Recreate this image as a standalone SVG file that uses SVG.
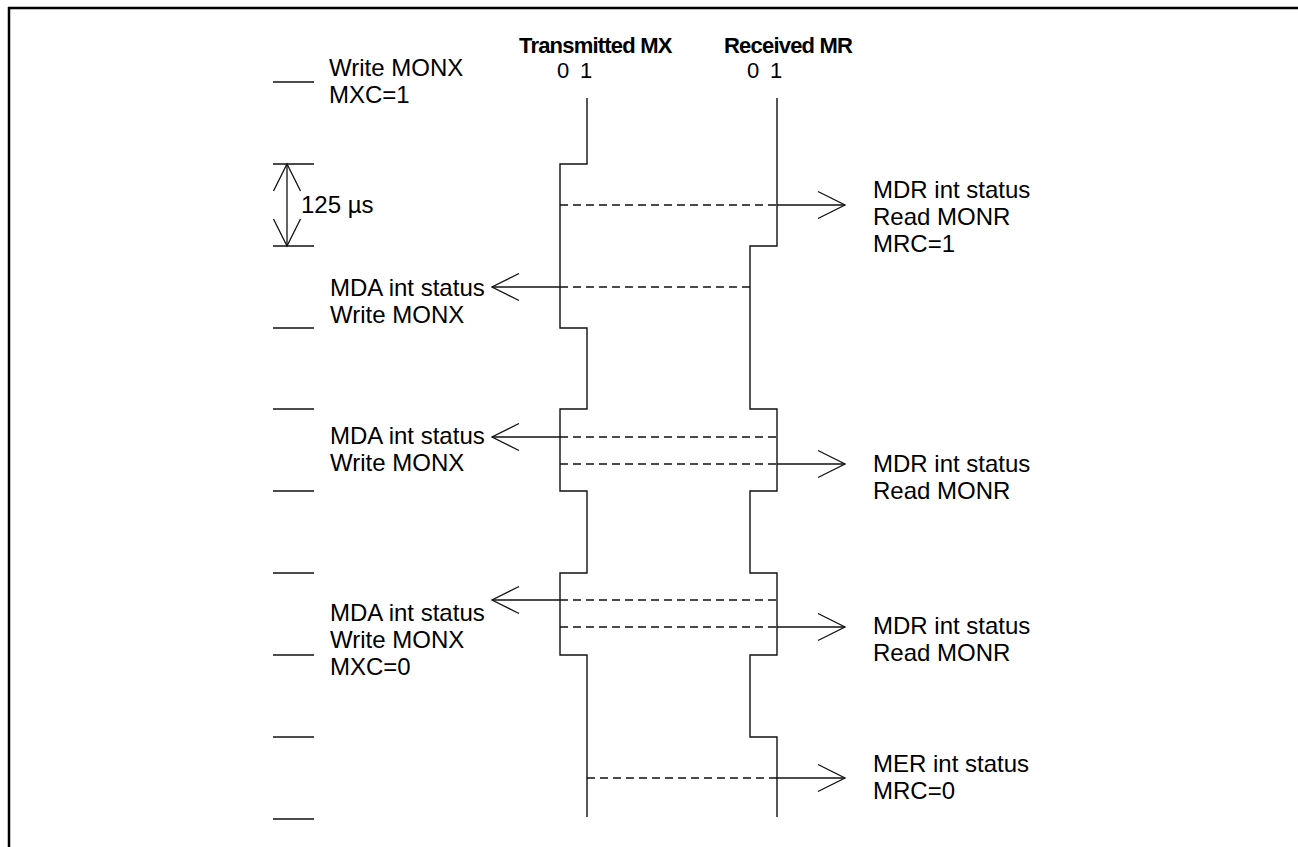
<svg xmlns="http://www.w3.org/2000/svg" width="1298" height="847" viewBox="0 0 1298 847">
<defs>
<style>
.t{font-family:"Liberation Sans",Arial,Helvetica,sans-serif;font-size:24px;fill:#000}
.b{font-family:"Liberation Sans",Arial,Helvetica,sans-serif;font-size:22px;font-weight:bold;letter-spacing:-0.8px;fill:#000}
.d{font-family:"Liberation Sans",Arial,Helvetica,sans-serif;font-size:22px;fill:#000}
.w{fill:none;stroke:#111;stroke-width:1.4}
.s{fill:none;stroke:#111;stroke-width:1.3}
.dash{fill:none;stroke:#111;stroke-width:1.3;stroke-dasharray:8 5}
.tick{stroke:#111;stroke-width:1.3}
</style>
<marker id="open" viewBox="-1 -15 30 30" refX="27" refY="0" markerWidth="30" markerHeight="30" markerUnits="userSpaceOnUse" orient="auto-start-reverse">
<path d="M0,-13.5 L27,0 L0,13.5" fill="none" stroke="#111" stroke-width="1.3"/>
</marker>
</defs>
<rect width="1298" height="847" fill="#fff"/>
<g id="frame">
<line x1="8" y1="8" x2="1298" y2="8" stroke="#000" stroke-width="2.5"/>
<line x1="9" y1="7" x2="9" y2="847" stroke="#000" stroke-width="2.5"/>
</g>
<g id="ticks">
<line class="tick" x1="273" y1="82" x2="314" y2="82"/>
<line class="tick" x1="273" y1="164" x2="314" y2="164"/>
<line class="tick" x1="273" y1="246" x2="314" y2="246"/>
<line class="tick" x1="273" y1="328" x2="314" y2="328"/>
<line class="tick" x1="273" y1="409" x2="314" y2="409"/>
<line class="tick" x1="273" y1="491" x2="314" y2="491"/>
<line class="tick" x1="273" y1="573" x2="314" y2="573"/>
<line class="tick" x1="273" y1="655" x2="314" y2="655"/>
<line class="tick" x1="273" y1="737" x2="314" y2="737"/>
<line class="tick" x1="273" y1="819" x2="314" y2="819"/>
</g>
<g id="period">
<line class="s" x1="287" y1="164" x2="287" y2="246" marker-start="url(#open)" marker-end="url(#open)"/>
<text class="t" x="301" y="213">125 µs</text>
</g>
<g id="titles">
<text class="b" x="519" y="53">Transmitted MX</text>
<text class="d" x="557 580" y="78">01</text>
<text class="b" x="724" y="53">Received MR</text>
<text class="d" x="747 770" y="78">01</text>
</g>
<g id="tx-wave">
<path class="w" d="M587,98 V164 H560 V328 H587 V409 H560 V491 H587 V573 H560 V655 H587 V817"/>
</g>
<g id="rx-wave">
<path class="w" d="M777,98 V246 H750 V409 H777 V491 H750 V573 H777 V655 H750 V737 H777 V817"/>
</g>
<g id="connectors">
<line class="dash" x1="560" y1="205" x2="777" y2="205"/>
<line class="s" x1="777" y1="205" x2="845" y2="205" marker-end="url(#open)"/>
<line class="dash" x1="560" y1="287" x2="750" y2="287"/>
<line class="s" x1="560" y1="287" x2="492" y2="287" marker-end="url(#open)"/>
<line class="dash" x1="560" y1="437" x2="777" y2="437"/>
<line class="s" x1="560" y1="437" x2="492" y2="437" marker-end="url(#open)"/>
<line class="dash" x1="560" y1="464" x2="777" y2="464"/>
<line class="s" x1="777" y1="464" x2="845" y2="464" marker-end="url(#open)"/>
<line class="dash" x1="560" y1="600" x2="777" y2="600"/>
<line class="s" x1="560" y1="600" x2="492" y2="600" marker-end="url(#open)"/>
<line class="dash" x1="560" y1="627" x2="777" y2="627"/>
<line class="s" x1="777" y1="627" x2="845" y2="627" marker-end="url(#open)"/>
<line class="dash" x1="587" y1="778" x2="777" y2="778"/>
<line class="s" x1="777" y1="778" x2="845" y2="778" marker-end="url(#open)"/>
</g>
<g id="label-write1">
<text class="t" x="329" y="76">Write MONX</text>
<text class="t" x="329" y="103">MXC=1</text>
</g>
<g id="label-mda1">
<text class="t" x="330" y="296">MDA int status</text>
<text class="t" x="330" y="323">Write MONX</text>
</g>
<g id="label-mda2">
<text class="t" x="330" y="444">MDA int status</text>
<text class="t" x="330" y="471">Write MONX</text>
</g>
<g id="label-mda3">
<text class="t" x="330" y="621">MDA int status</text>
<text class="t" x="330" y="648">Write MONX</text>
<text class="t" x="330" y="675">MXC=0</text>
</g>
<g id="label-mdr1">
<text class="t" x="873" y="198">MDR int status</text>
<text class="t" x="873" y="225">Read MONR</text>
<text class="t" x="873" y="252">MRC=1</text>
</g>
<g id="label-mdr2">
<text class="t" x="873" y="472">MDR int status</text>
<text class="t" x="873" y="499">Read MONR</text>
</g>
<g id="label-mdr3">
<text class="t" x="873" y="634">MDR int status</text>
<text class="t" x="873" y="661">Read MONR</text>
</g>
<g id="label-mer">
<text class="t" x="873" y="772">MER int status</text>
<text class="t" x="873" y="799">MRC=0</text>
</g>
</svg>
